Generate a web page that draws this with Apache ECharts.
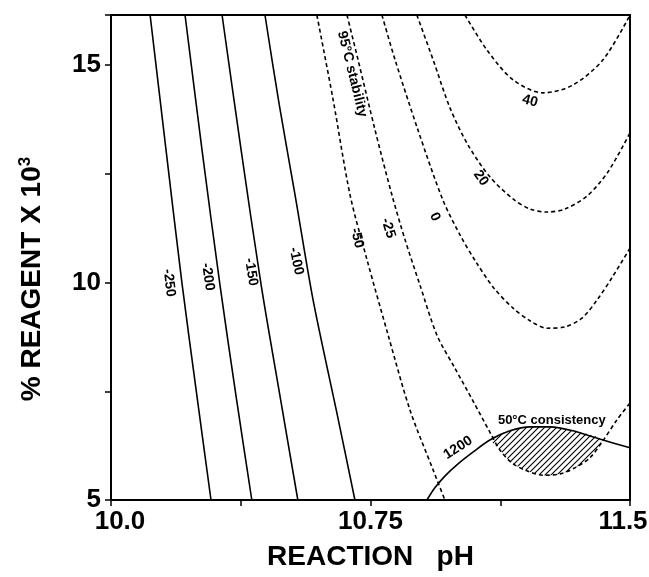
<!DOCTYPE html>
<html>
<head>
<meta charset="utf-8">
<title>Reaction pH / reagent contours</title>
<script src="https://cdn.jsdelivr.net/npm/echarts@6/dist/echarts.min.js"></script>
<style>
  html, body { margin: 0; padding: 0; background: #fff; }
  #chart { width: 649px; height: 577px; }
</style>
</head>
<body>
<div id="chart"></div>
<script>
// 刻度
const xTickValues = [10, 10.375, 10.75, 11.125, 11.5]
const xTickLabels = ['10.0', '', '10.75', '', '11.5']
const yTickValues = [5, 7.5, 10, 12.5, 15]
const yTickLabels = ['5', '', '10', '', '15']

// 等值线 (pH, % reagent x 10^3)
const m250PH = [10.113, 10.159, 10.205, 10.246, 10.289]
const m250Rg = [16.15, 13.05, 9.99, 7.53, 5.0]
const m200PH = [10.214, 10.263, 10.315, 10.361, 10.407]
const m200Rg = [16.15, 13.05, 9.94, 7.41, 5.0]
const m150PH = [10.321, 10.376, 10.434, 10.488, 10.540]
const m150Rg = [16.15, 13.05, 9.94, 7.41, 5.0]
const m100PH = [10.445, 10.486, 10.532, 10.584, 10.651, 10.705]
const m100Rg = [16.15, 14.10, 12.01, 9.60, 7.07, 5.0]
const m50PH = [10.595, 10.642, 10.691, 10.740, 10.801, 10.864, 10.931, 10.965]
const m50Rg = [16.15, 14.20, 12.01, 10.52, 8.79, 7.07, 5.69, 5.0]
const m25PH = [10.682, 10.714, 10.763, 10.812, 10.850, 10.893, 10.942, 10.994, 11.046, 11.095, 11.124, 11.159, 11.202, 11.248, 11.298, 11.341, 11.384, 11.419, 11.462, 11.500]
const m25Rg = [16.15, 15.12, 13.51, 12.01, 10.98, 9.94, 8.79, 8.03, 7.28, 6.56, 6.15, 5.85, 5.67, 5.57, 5.60, 5.74, 5.97, 6.33, 6.84, 7.23]
const c0PH = [10.783, 10.821, 10.887, 10.959, 11.009, 11.055, 11.107, 11.162, 11.211, 11.260, 11.312, 11.361, 11.405, 11.451, 11.500]
const c0Rg = [16.15, 15.12, 13.51, 11.90, 11.09, 10.47, 9.87, 9.41, 9.12, 8.95, 8.98, 9.18, 9.60, 10.15, 10.79]
const c20PH = [10.884, 10.931, 10.980, 11.032, 11.095, 11.162, 11.211, 11.260, 11.312, 11.376, 11.436, 11.500]
const c20Rg = [16.15, 15.12, 14.01, 13.16, 12.43, 11.92, 11.69, 11.62, 11.69, 11.99, 12.54, 13.44]
const c40PH = [11.023, 11.087, 11.162, 11.249, 11.335, 11.422, 11.500]
const c40Rg = [16.15, 15.34, 14.66, 14.36, 14.54, 15.12, 16.15]
// 50°C consistency 1200
const c1200PH = [10.913, 10.936, 10.965, 11.003, 11.046, 11.095, 11.153, 11.211, 11.269, 11.335, 11.413, 11.500]
const c1200Rg = [5.00, 5.28, 5.55, 5.83, 6.10, 6.38, 6.59, 6.68, 6.68, 6.59, 6.40, 6.20]

// 阴影区域
const hatchPH = [11.098, 11.153, 11.211, 11.269, 11.335, 11.416, 11.384, 11.341, 11.298, 11.248, 11.202, 11.159, 11.124]
const hatchRg = [6.40, 6.59, 6.68, 6.68, 6.59, 6.38, 5.97, 5.74, 5.60, 5.57, 5.67, 5.85, 6.15]

// 标注
const noteText = ['-250', '-200', '-150', '-100', '-50', '-25', '0', '20', '40', '1200', '95°C stability', '50°C consistency']
const notePH = [10.168, 10.280, 10.405, 10.535, 10.711, 10.801, 10.936, 11.069, 11.211, 11.003, 10.697, 11.274]
const noteRg = [9.99, 10.13, 10.24, 10.49, 11.02, 11.25, 11.51, 12.40, 14.17, 6.20, 14.79, 6.82]
const noteAngle = [-83, -82, -81, -78, -76, -73, -65, -55, -15, 33, -76, 0]

const FONT = 'Liberation Sans, Arial, Helvetica, sans-serif'

function zip(xs, ys) {
  return xs.map((x, i) => [x, ys[i]])
}

function contour(name, xs, ys, dashed) {
  return {
    name: name,
    type: 'line',
    data: zip(xs, ys),
    showSymbol: false,
    smooth: 0.3,
    silent: true,
    z: 3,
    lineStyle: {
      color: '#000',
      width: 1.6,
      type: dashed ? [4, 3] : 'solid'
    }
  }
}

function hatchPattern() {
  const c = document.createElement('canvas')
  c.width = 6
  c.height = 6
  const ctx = c.getContext('2d')
  ctx.strokeStyle = '#000'
  ctx.lineWidth = 1.1
  ctx.beginPath()
  ctx.moveTo(0, 6); ctx.lineTo(6, 0)
  ctx.moveTo(-1, 1); ctx.lineTo(1, -1)
  ctx.moveTo(5, 7); ctx.lineTo(7, 5)
  ctx.stroke()
  return { image: c, repeat: 'repeat' }
}

function pickLabel(values, labels, v) {
  const k = values.findIndex(t => Math.abs(t - v) < 1e-6)
  return k < 0 ? '' : labels[k]
}

const chart = echarts.init(document.getElementById('chart'))
const hatchFill = hatchPattern()

const option = {
  backgroundColor: '#fff',
  animation: false,
  grid: {
    left: 111,
    right: 19,
    top: 15,
    bottom: 77,
    containLabel: false,
    outerBoundsMode: 'none',
    show: true,
    borderColor: '#000',
    borderWidth: 2,
    backgroundColor: 'transparent'
  },
  xAxis: {
    type: 'value',
    min: 10,
    max: 11.5,
    interval: 0.375,
    name: 'REACTION   pH',
    nameLocation: 'middle',
    nameGap: 43,
    nameMoveOverlap: false,
    nameTextStyle: { color: '#000', fontSize: 28, fontWeight: 'bold', fontFamily: FONT },
    axisLine: { show: true, lineStyle: { color: '#000', width: 2 } },
    axisTick: { show: true, inside: false, length: 6, lineStyle: { color: '#000', width: 1.5 } },
    splitLine: { show: false },
    axisLabel: {
      show: true,
      margin: 9,
      color: '#000',
      fontSize: 26,
      fontWeight: 'bold',
      fontFamily: FONT,
      showMinLabel: true,
      showMaxLabel: true,
      formatter: v => {
        const s = pickLabel(xTickValues, xTickLabels, v)
        if (!s) return ''
        if (Math.abs(v - 10) < 1e-6) return '{l|' + s + '}'
        if (Math.abs(v - 11.5) < 1e-6) return '{r|' + s + '}'
        return s
      },
      rich: {
        l: { fontSize: 26, fontWeight: 'bold', fontFamily: FONT, color: '#000', padding: [0, 0, 0, 18] },
        r: { fontSize: 26, fontWeight: 'bold', fontFamily: FONT, color: '#000', padding: [0, 14, 0, 0] }
      }
    }
  },
  yAxis: {
    type: 'value',
    min: 5,
    max: 16.15,
    interval: 2.5,
    name: '% REAGENT X 10{sup|3}',
    nameLocation: 'middle',
    nameRotate: 90,
    nameGap: 63,
    nameMoveOverlap: false,
    nameTextStyle: {
      color: '#000',
      fontSize: 28,
      fontWeight: 'bold',
      fontFamily: FONT,
      padding: [0, 43, 0, 0],
      rich: {
        sup: { fontSize: 17, fontWeight: 'bold', fontFamily: FONT, color: '#000', verticalAlign: 'top', padding: [0, 0, 14, 0] }
      }
    },
    axisLine: { show: true, lineStyle: { color: '#000', width: 2 } },
    axisTick: { show: true, inside: false, length: 6, lineStyle: { color: '#000', width: 1.5 } },
    splitLine: { show: false },
    axisLabel: {
      show: true,
      margin: 10,
      color: '#000',
      fontSize: 26,
      fontWeight: 'bold',
      fontFamily: FONT,
      formatter: v => pickLabel(yTickValues, yTickLabels, v)
    }
  },
  series: [
    contour('-250', m250PH, m250Rg, false),
    contour('-200', m200PH, m200Rg, false),
    contour('-150', m150PH, m150Rg, false),
    contour('-100', m100PH, m100Rg, false),
    contour('-50', m50PH, m50Rg, true),
    contour('-25', m25PH, m25Rg, true),
    contour('0', c0PH, c0Rg, true),
    contour('20', c20PH, c20Rg, true),
    contour('40', c40PH, c40Rg, true),
    contour('1200', c1200PH, c1200Rg, false),
    {
      // 斜线阴影
      type: 'custom',
      silent: true,
      z: 2,
      data: [[hatchPH[0], hatchRg[0]]],
      renderItem: (params, api) => {
        const pts = hatchPH.map((x, i) => api.coord([x, hatchRg[i]]))
        return {
          type: 'polygon',
          shape: { points: pts, smooth: 0.3 },
          style: { fill: hatchFill, stroke: null }
        }
      }
    },
    {
      // 文字标注
      type: 'custom',
      silent: true,
      z: 5,
      clip: false,
      data: noteText.map((t, i) => [notePH[i], noteRg[i], i]),
      renderItem: (params, api) => {
        const i = api.value(2)
        const p = api.coord([api.value(0), api.value(1)])
        return {
          type: 'text',
          x: p[0],
          y: p[1],
          rotation: noteAngle[i] * Math.PI / 180,
          style: {
            text: noteText[i],
            fill: '#000',
            fontSize: i === 11 ? 13 : 14,
            fontWeight: 'bold',
            fontFamily: FONT,
            align: 'center',
            verticalAlign: 'middle',
            textAlign: 'center',
            textVerticalAlign: 'middle'
          }
        }
      }
    }
  ]
}

chart.setOption(option)
</script>
</body>
</html>
